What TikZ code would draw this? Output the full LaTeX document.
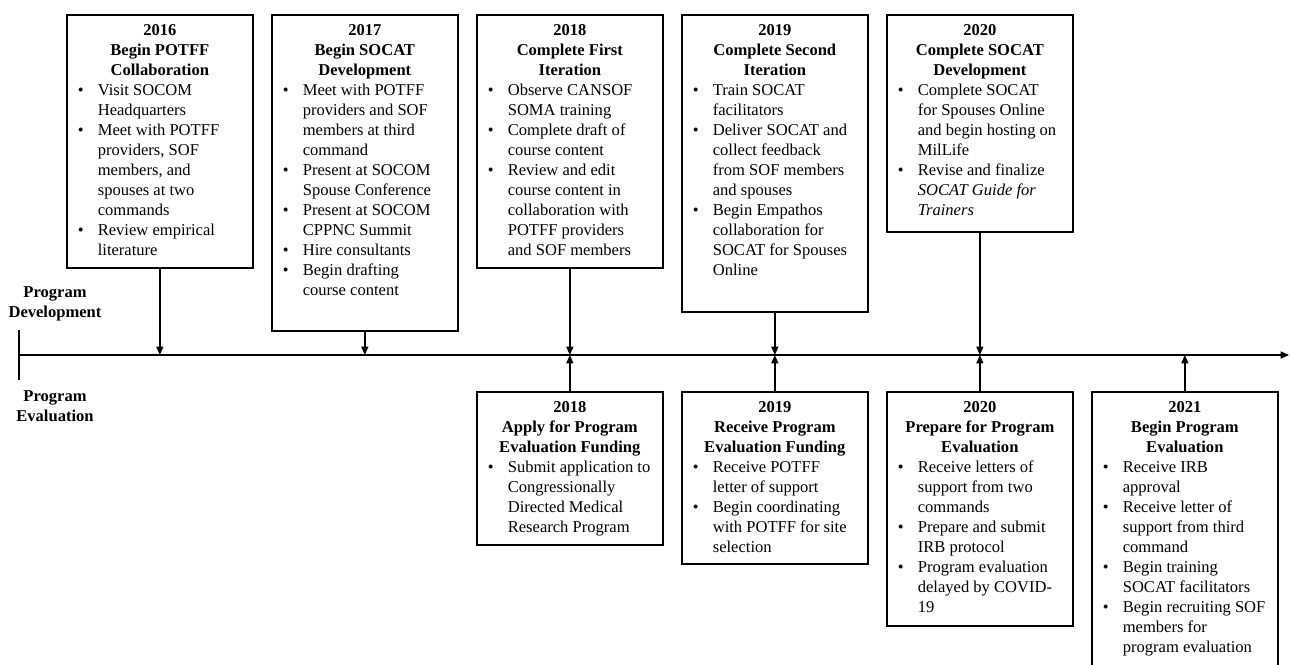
\documentclass[tikz,border=0pt]{standalone}
\usepackage{fontspec}
\setmainfont{Liberation Serif}
\usetikzlibrary{calc}
\usetikzlibrary{arrows.meta}

\newlength{\pxu}
\setlength{\pxu}{0.725pt}
\newcommand{\bitem}{\par\hangindent=31\pxu\hangafter=1\noindent\makebox[31\pxu][l]{\hspace{11\pxu}\textbullet}}
\newcommand{\tlbox}[3]{\parbox[t][\dimexpr#1\pxu-14pt\relax][t]{186\pxu}{\centering\textbf{#2}\par\raggedright\let\\\newline#3\par}}

\begin{document}
\begin{tikzpicture}[x=0.725pt, y=-0.725pt, line width=1pt,
  font=\fontsize{12}{14.5}\selectfont,
  card/.style={draw, line width=1.2pt, inner xsep=0pt, inner ysep=7pt, anchor=north west},
  side/.style={font=\fontsize{12}{14.5}\selectfont\bfseries, align=center},
  >={Triangle[length=6pt,width=5pt]}]
  \useasboundingbox (0,0) rectangle (1290,664);

  \coordinate (l0) at (19,355);
  \coordinate (l1) at (1289,355);
  \coordinate (k0) at (19,330);
  \coordinate (k1) at (19,380);

  \node [side] (devlabel) at (55,304) {Program\\Development};
  \node [side] (evallabel) at (55,406) {Program\\Evaluation};

  \node [card] (d2016) at (66,14) {\tlbox{253}{2016\\Begin POTFF\\Collaboration}{%
    \bitem Visit SOCOM\\Headquarters
    \bitem Meet with POTFF\\providers, SOF\\members, and\\spouses at two\\commands
    \bitem Review empirical\\literature}};
  \node [card] (d2017) at (271,14) {\tlbox{316}{2017\\Begin SOCAT\\Development}{%
    \bitem Meet with POTFF\\providers and SOF\\members at third\\command
    \bitem Present at SOCOM\\Spouse Conference
    \bitem Present at SOCOM\\CPPNC Summit
    \bitem Hire consultants
    \bitem Begin drafting\\course content}};
  \node [card] (d2018) at (476,14) {\tlbox{253}{2018\\Complete First\\Iteration}{%
    \bitem Observe CANSOF\\SOMA training
    \bitem Complete draft of\\course content
    \bitem Review and edit\\course content in\\collaboration with\\POTFF providers\\and SOF members}};
  \node [card] (d2019) at (681,14) {\tlbox{297}{2019\\Complete Second\\Iteration}{%
    \bitem Train SOCAT\\facilitators
    \bitem Deliver SOCAT and\\collect feedback\\from SOF members\\and spouses
    \bitem Begin Empathos\\collaboration for\\SOCAT for Spouses\\Online}};
  \node [card] (d2020) at (886,14) {\tlbox{217}{2020\\Complete SOCAT\\Development}{%
    \bitem Complete SOCAT\\for Spouses Online\\and begin hosting on\\MilLife
    \bitem Revise and finalize\\\textit{SOCAT Guide for}\\\textit{Trainers}}};

  \node [card] (e2018) at (476,391) {\tlbox{153}{2018\\Apply for Program\\Evaluation Funding}{%
    \bitem Submit application to\\Congressionally\\Directed Medical\\Research Program}};
  \node [card] (e2019) at (681,391) {\tlbox{172}{2019\\Receive Program\\Evaluation Funding}{%
    \bitem Receive POTFF\\letter of support
    \bitem Begin coordinating\\with POTFF for site\\selection}};
  \node [card] (e2020) at (886,391) {\tlbox{234}{2020\\Prepare for Program\\Evaluation}{%
    \bitem Receive letters of\\support from two\\commands
    \bitem Prepare and submit\\IRB protocol
    \bitem Program evaluation\\delayed by COVID-\\19}};
  \node [card] (e2021) at (1091,391) {\tlbox{300}{2021\\Begin Program\\Evaluation}{%
    \bitem Receive IRB\\approval
    \bitem Receive letter of\\support from third\\command
    \bitem Begin training\\SOCAT facilitators
    \bitem Begin recruiting SOF\\members for\\program evaluation}};

  \draw [->] (l0) -- (l1);
  \draw (k0) -- (k1);

  \draw [->] (d2016.south) -- (d2016.south |- l0);
  \draw [->] (d2017.south) -- (d2017.south |- l0);
  \draw [->] (d2018.south) -- (d2018.south |- l0);
  \draw [->] (d2019.south) -- (d2019.south |- l0);
  \draw [->] (d2020.south) -- (d2020.south |- l0);

  \draw [->] (e2018.north) -- (e2018.north |- l0);
  \draw [->] (e2019.north) -- (e2019.north |- l0);
  \draw [->] (e2020.north) -- (e2020.north |- l0);
  \draw [->] (e2021.north) -- (e2021.north |- l0);
\end{tikzpicture}
\end{document}
